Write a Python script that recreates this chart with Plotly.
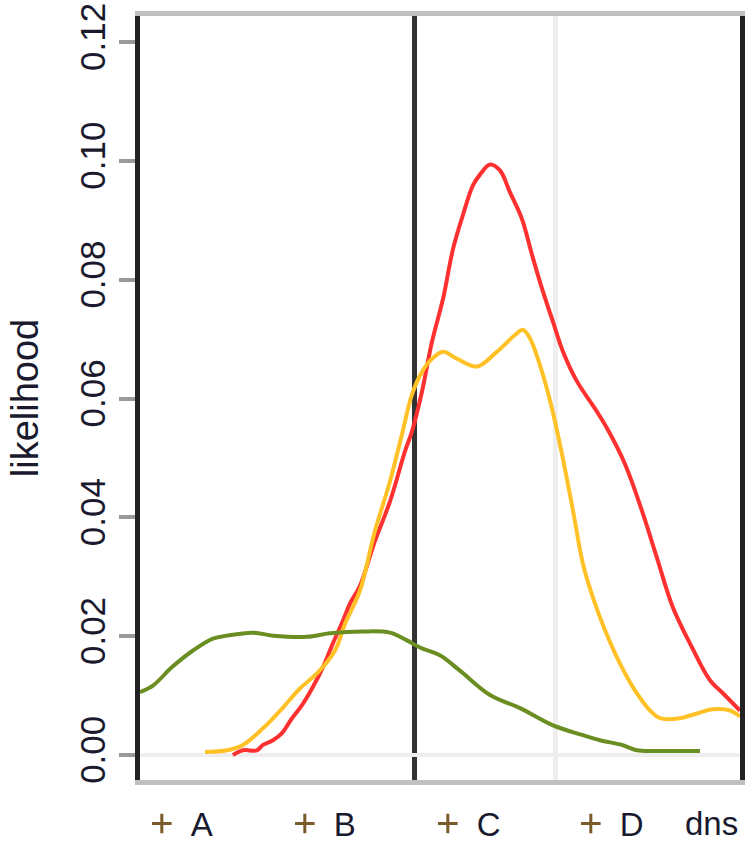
import plotly.graph_objects as go

# ---- data ----
x_a = [-1.291, -1.220, -1.121, -1.078, -1.007, -0.943, -0.872, -0.801, -0.730, -0.652, -0.582, -0.511,
       -0.461, -0.390, -0.284, -0.177, -0.071, -0.021, 0.050, 0.121, 0.199, 0.270, 0.340, 0.411, 0.461,
       0.532, 0.603, 0.674, 0.759, 0.830, 0.901, 0.979, 1.050, 1.149, 1.277, 1.362, 1.489, 1.610, 1.716,
       1.830, 1.965, 2.092, 2.184, 2.305]
y_a = [0.0000, 0.0008, 0.0008, 0.0017, 0.0025, 0.0037, 0.0062, 0.0084, 0.0112, 0.0148, 0.0188, 0.0226,
       0.0255, 0.0285, 0.0360, 0.0427, 0.0511, 0.0545, 0.0612, 0.0696, 0.0768, 0.0852, 0.0909, 0.0959,
       0.0977, 0.0994, 0.0984, 0.0947, 0.0902, 0.0842, 0.0785, 0.0729, 0.0679, 0.0629, 0.0583, 0.0550,
       0.0490, 0.0411, 0.0332, 0.0248, 0.0181, 0.0126, 0.0104, 0.0075]

x_b = [-1.489, -1.333, -1.220, -1.078, -0.936, -0.816, -0.688, -0.567, -0.496, -0.390, -0.284, -0.177,
       -0.092, -0.021, 0.050, 0.121, 0.199, 0.298, 0.440, 0.582, 0.709, 0.766, 0.816, 0.901, 0.972,
       1.043, 1.121, 1.191, 1.262, 1.348, 1.454, 1.560, 1.667, 1.738, 1.879, 2.000, 2.113, 2.234, 2.305]
y_b = [0.0005, 0.0008, 0.0017, 0.0045, 0.0080, 0.0112, 0.0139, 0.0176, 0.0221, 0.0277, 0.0377, 0.0461,
       0.0540, 0.0607, 0.0645, 0.0667, 0.0679, 0.0667, 0.0654, 0.0679, 0.0707, 0.0716, 0.0701, 0.0645,
       0.0583, 0.0506, 0.0411, 0.0322, 0.0265, 0.0210, 0.0154, 0.0109, 0.0075, 0.0062, 0.0062, 0.0070,
       0.0077, 0.0075, 0.0065]

x_c = [-1.950, -1.858, -1.723, -1.574, -1.433, -1.333, -1.149, -1.007, -0.766, -0.603, -0.369, -0.177,
       -0.057, 0.035, 0.177, 0.319, 0.532, 0.745, 0.979, 1.184, 1.312, 1.468, 1.574, 1.759, 2.021]
y_c = [0.0106, 0.0117, 0.0148, 0.0176, 0.0196, 0.0201, 0.0206, 0.0201, 0.0199, 0.0205, 0.0208, 0.0206,
       0.0193, 0.0181, 0.0168, 0.0142, 0.0101, 0.0079, 0.0050, 0.0034, 0.0025, 0.0017, 0.0008, 0.0007,
       0.0007]

legend_names = ["A", "B", "C", "D"]
y_ticks = [0.00, 0.02, 0.04, 0.06, 0.08, 0.10, 0.12]
y_tick_text = ["0.00", "0.02", "0.04", "0.06", "0.08", "0.10", "0.12"]
x_grid = [0, 1]
y_title = "likelihood"
note_text = "dns"

curves = [("A", x_a, y_a, "#FF3030"), ("B", x_b, y_b, "#FFC125"), ("C", x_c, y_c, "#6B8E23")]

fig = go.Figure()
for name, xs, ys, col in curves:
    fig.add_trace(go.Scatter(x=xs, y=ys, mode="lines", line=dict(color=col, width=4, shape="spline"),
                             legendgroup=name, showlegend=False, name=name))
for name in legend_names:
    fig.add_trace(go.Scatter(x=[None], y=[None], mode="markers", name=name, legendgroup=name,
                             marker=dict(symbol="cross-thin", size=14, color="#7a5a2a",
                                         line=dict(width=3, color="#7a5a2a"))))

fig.update_layout(
    width=745, height=844,
    margin=dict(l=140, r=5, t=16, b=64, autoexpand=False),
    paper_bgcolor="white", plot_bgcolor="white",
    font=dict(family="Liberation Sans, Arial, sans-serif", color="#1a1a2e"),
    legend=dict(orientation="h", x=-0.012, xanchor="left", y=-0.057, yanchor="middle",
                font=dict(size=33), entrywidth=80, entrywidthmode="pixels",
                itemwidth=48, bgcolor="rgba(0,0,0,0)"),
    annotations=[dict(text=note_text, x=0.905, xref="paper", xanchor="left",
                      y=-0.057, yref="paper", yanchor="middle", showarrow=False,
                      font=dict(size=33, color="#1a1a2e"))],
)
fig.update_xaxes(range=[-1.950, 2.305], tickvals=x_grid, showticklabels=False, ticks="",
                 showgrid=True, gridcolor="#eeeeee", gridwidth=5,
                 zeroline=True, zerolinecolor="#333333", zerolinewidth=5,
                 showline=True, linecolor="#c0c0c0", linewidth=5, mirror=True)
fig.update_yaxes(range=[-0.0042, 0.1244], tickvals=y_ticks, ticktext=y_tick_text, tickangle=-90,
                 tickfont=dict(size=35, color="#1a1a2e"), ticks="outside", ticklen=16, tickwidth=4,
                 tickcolor="#9a9a9a", showgrid=False,
                 zeroline=True, zerolinecolor="#eeeeee", zerolinewidth=4,
                 showline=True, linecolor="#222222", linewidth=5, mirror=True,
                 title=dict(text=y_title, font=dict(size=38, color="#1a1a2e"), standoff=24))

fig.write_html("out.html")
